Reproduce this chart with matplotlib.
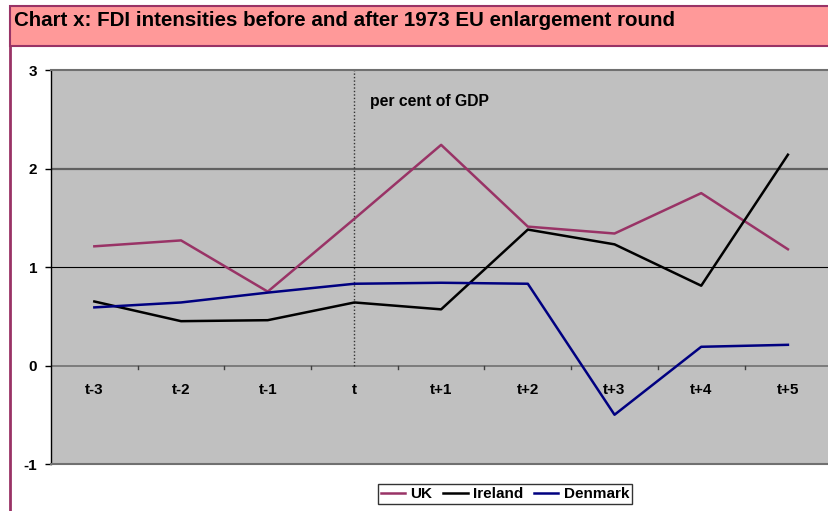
import matplotlib
matplotlib.use('Agg')
import matplotlib.pyplot as plt
from matplotlib.patches import Rectangle
from matplotlib.lines import Line2D

plt.rcParams['font.family'] = ['Liberation Sans', 'DejaVu Sans']

periods = ["t-3", "t-2", "t-1", "t", "t+1", "t+2", "t+3", "t+4", "t+5"]
uk = [1.21, 1.27, 0.75, 1.49, 2.24, 1.41, 1.34, 1.75, 1.18]
ireland = [0.65, 0.45, 0.46, 0.64, 0.57, 1.38, 1.23, 0.81, 2.14]
denmark = [0.59, 0.64, 0.74, 0.83, 0.84, 0.83, -0.50, 0.19, 0.21]

title = "Chart x: FDI intensities before and after 1973 EU enlargement round"
purple = "#993366"

fig = plt.figure(figsize=(8.29, 5.11), dpi=100)
W, H = 829, 511

# title band and left frame line
band = Rectangle((10 / W, 1 - 46 / H), 1.0, 40 / H, transform=fig.transFigure,
                 facecolor="#FF9999", edgecolor=purple, lw=1.5, zorder=0)
fig.patches.append(band)
fig.lines.append(Line2D([10 / W, 10 / W], [0, 1 - 46 / H], transform=fig.transFigure,
                        color=purple, lw=2))
fig.text(14 / W, 1 - 20 / H, title, fontsize=14.8, fontweight="bold", va="center", ha="left")

ax = fig.add_axes([51 / W, 47 / H, 782 / W, 394 / H])
ax.set_facecolor("#C0C0C0")
x = list(range(len(periods)))

ax.axhline(2, color="#606060", lw=1.6, zorder=1)
ax.axhline(1, color="black", lw=0.8, zorder=1)
ax.axhline(0, color="#707070", lw=1.2, zorder=1)
ax.plot([3, 3], [0, 3], color="#333333", lw=1, ls=(0, (1, 1.5)), zorder=2)

ax.plot(x, uk, color=purple, lw=1.8, label="UK", zorder=3)
ax.plot(x, ireland, color="black", lw=1.8, label="Ireland", zorder=3)
ax.plot(x, denmark, color="#000080", lw=1.8, label="Denmark", zorder=3)

ax.set_xlim(-0.5, 8.52)
ax.set_ylim(-1, 3)
ax.set_yticks([-1, 0, 1, 2, 3])
ax.set_yticklabels(["-1", "0", "1", "2", "3"], fontweight="bold", fontsize=11)
ax.tick_params(axis="y", length=4, width=1, pad=6)
ax.set_xticks([])

for i, p in enumerate(periods):
    ax.text(i, -0.25, p, ha="center", va="center", fontsize=11, fontweight="bold")
for i in range(len(periods) - 1):
    ax.plot([i + 0.5, i + 0.5], [0, -0.04], color="#404040", lw=1, zorder=2)

ax.text(3.18, 2.68, "per cent of GDP", fontsize=11.3, fontweight="bold", va="center")

for side in ["top", "bottom"]:
    ax.spines[side].set_color("#707070")
    ax.spines[side].set_linewidth(1.5)
ax.spines["right"].set_visible(False)
ax.spines["left"].set_color("black")
ax.spines["left"].set_linewidth(1)

leg = fig.legend(loc="center", bbox_to_anchor=(505 / W, 1 - 494 / H), ncol=3,
                 frameon=True, fancybox=False, handlelength=1.6, handletextpad=0.35,
                 columnspacing=0.7, borderpad=0.2, prop={"weight": "bold", "size": 11})
leg.get_frame().set_edgecolor("black")
leg.get_frame().set_linewidth(1)

fig.savefig("out.png", dpi=100)
